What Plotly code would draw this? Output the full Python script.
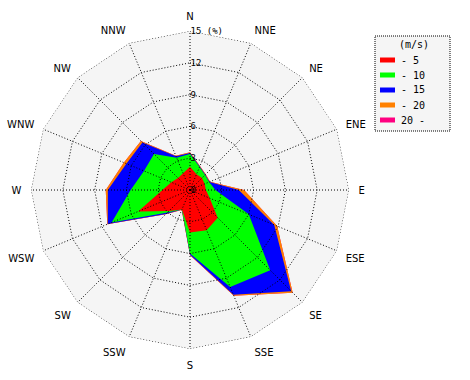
import numpy as np
import plotly.graph_objects as go

# ---- data (percent frequency per speed class and direction) ----
directions = ["N", "NNE", "NE", "ENE", "E", "ESE", "SE", "SSE",
              "S", "SSW", "SW", "WSW", "W", "WNW", "NW", "NNW"]
speed_classes = ["- 5", "- 10", "- 15", "- 20", "20 -"]
freq_0_5 = [2.2, 1.6, 1.6, 1.5, 1.5, 2.0, 3.7, 4.1, 4.0, 2.0, 2.8, 5.3, 2.6, 1.9, 1.6, 1.7]
freq_5_10 = [1.2, 0.75, 0.4, 0.45, 0.9, 4.0, 7.0, 5.8, 2.0, 0.0, 0.2, 2.7, 3.0, 2.8, 3.2, 1.6]
freq_10_15 = [0.1, 0.05, 0.05, 0.05, 2.2, 2.6, 2.8, 0.8, 0.1, 0.0, 0.2, 0.4, 2.15, 1.8, 1.55, 0.15]
freq_15_20 = [0.05, 0.05, 0.05, 0.05, 0.5, 0.3, 0.2, 0.1, 0.05, 0.05, 0.05, 0.05, 0.2, 0.25, 0.2, 0.05]
freq_20_up = [0.0] * 16
radial_ticks = [0, 3, 6, 9, 12, 15]
radial_labels = ["0", "3", "6", "9", "12", "15 (%)"]
legend_title = "(m/s)"

colors = ["#ff0000", "#00ff00", "#0000ff", "#ff8000", "#ff0080"]

bins = np.array([freq_0_5, freq_5_10, freq_10_15, freq_15_20, freq_20_up])
cum = np.cumsum(bins, axis=0)

W, H = 470, 380
fig = go.Figure()
theta_closed = directions + [directions[0]]

# stacked filled areas, largest first
for k in reversed(range(len(speed_classes))):
    r = list(cum[k]) + [cum[k][0]]
    fig.add_trace(go.Scatterpolar(
        r=r, theta=theta_closed, mode="lines", fill="toself",
        fillcolor=colors[k], line=dict(width=0, color=colors[k]),
        name=speed_classes[k], showlegend=False, hoverinfo="skip"))

# dotted grid drawn above the areas
dot = dict(color="black", width=1, dash="1px,2px")
for t in radial_ticks[1:]:
    fig.add_trace(go.Scatterpolar(r=[t] * len(theta_closed), theta=theta_closed,
                                  mode="lines", line=dot, showlegend=False, hoverinfo="skip"))
for d in directions:
    fig.add_trace(go.Scatterpolar(r=[radial_ticks[0], radial_ticks[-1]], theta=[d, d],
                                  mode="lines", line=dot, showlegend=False, hoverinfo="skip"))

cx, cy, R = 190, 190, 159
fig.update_layout(
    width=W, height=H,
    margin=dict(l=0, r=0, t=0, b=0),
    paper_bgcolor="white",
    polar=dict(
        domain=dict(x=[(cx - R) / W, (cx + R) / W], y=[1 - (cy + R) / H, 1 - (cy - R) / H]),
        bgcolor="#f5f5f5",
        gridshape="linear",
        radialaxis=dict(range=[0, 15], tickvals=radial_ticks, ticktext=radial_labels,
                        showgrid=False, showline=False, ticks="", angle=90, tickangle=90,
                        tickfont=dict(family="DejaVu Sans Mono", size=9, color="black")),
        angularaxis=dict(type="category", categoryorder="array", categoryarray=directions,
                         direction="clockwise", rotation=90, showgrid=False, showline=False,
                         ticks="outside", ticklen=7, tickcolor="rgba(0,0,0,0)",
                         tickfont=dict(family="DejaVu Sans", size=10, color="black")),
    ),
)

# legend box
lx0, lx1, ly0, ly1 = 375, 450, 36, 131
shapes = [dict(type="rect", xref="paper", yref="paper",
               x0=lx0 / W, x1=lx1 / W, y0=1 - ly1 / H, y1=1 - ly0 / H,
               line=dict(color="black", width=1, dash="1px,1px"), fillcolor="#f5f5f5")]
annotations = [dict(text=legend_title, xref="paper", yref="paper", x=414 / W, y=1 - 44 / H,
                    showarrow=False, xanchor="center", yanchor="middle",
                    font=dict(family="DejaVu Sans Mono", size=10, color="black"))]
for k, name in enumerate(speed_classes):
    yc = 60 + 15 * k
    shapes.append(dict(type="rect", xref="paper", yref="paper",
                       x0=380 / W, x1=395 / W, y0=1 - (yc + 2.5) / H, y1=1 - (yc - 2.5) / H,
                       line=dict(width=0), fillcolor=colors[k]))
    annotations.append(dict(text=name, xref="paper", yref="paper", x=399 / W, y=1 - yc / H,
                            showarrow=False, xanchor="left", yanchor="middle",
                            font=dict(family="DejaVu Sans Mono", size=10, color="black")))
fig.update_layout(shapes=shapes, annotations=annotations)

fig.write_html("out.html", config={"displayModeBar": False},
               post_script="document.body.style.margin='0px';")
